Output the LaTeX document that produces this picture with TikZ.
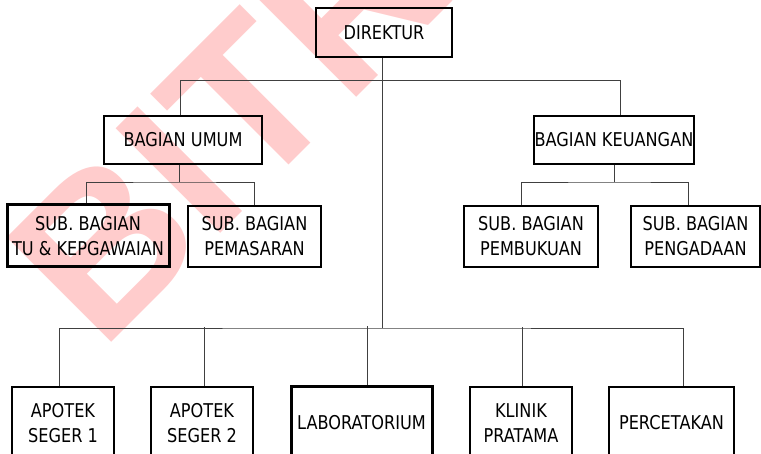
\documentclass[tikz,border=0pt]{standalone}
\usepackage{fontspec}
\setmainfont{DejaVu Sans}[FakeStretch=0.85]
\newfontfamily\markfont{Liberation Sans}
\begin{document}
\begin{tikzpicture}[x=1pt,y=-1pt,
  box/.style={draw,line width=1.4pt,inner sep=0pt,align=center,
    font=\fontsize{19}{25}\selectfont},
  boldbox/.style={box,line width=3pt},
  link/.style={line width=0.9pt,black!75}]
  \useasboundingbox (0,0) rectangle (761,454);
  \clip (0,0) rectangle (761,454);
  % watermark
  \node[rotate=45,anchor=base west,inner sep=0pt,text=red!20,
    font=\markfont\bfseries\fontsize{215}{215}\selectfont] (mark) at (101,353) {BITR};
  % top levels
  \node[box,minimum width=136pt,minimum height=49pt] (dir) at (384,32.5) {DIREKTUR};
  \node[box,minimum width=158pt,minimum height=48pt] (umum) at (183,140) {BAGIAN UMUM};
  \node[box,minimum width=160pt,minimum height=48pt] (keu) at (614,140) {BAGIAN KEUANGAN};
  \node[boldbox,minimum width=162pt,minimum height=62pt] (tu) at (88,236) {SUB. BAGIAN\\TU \& KEPGAWAIAN};
  \node[box,minimum width=133pt,minimum height=61pt] (pasar) at (254.5,236.5) {SUB. BAGIAN\\PEMASARAN};
  \node[box,minimum width=134pt,minimum height=61pt] (buku) at (531,236.5) {SUB. BAGIAN\\PEMBUKUAN};
  \node[box,minimum width=129pt,minimum height=61pt] (adaan) at (695.5,236.5) {SUB. BAGIAN\\PENGADAAN};
  % units
  \node[box,minimum width=102pt,minimum height=72pt] (apt1) at (63,423) {APOTEK\\SEGER 1};
  \node[box,minimum width=102pt,minimum height=72pt] (apt2) at (202,423) {APOTEK\\SEGER 2};
  \node[boldbox,minimum width=141pt,minimum height=72pt] (lab) at (361.5,423) {LABORATORIUM};
  \node[box,minimum width=102pt,minimum height=72pt] (klinik) at (521,423) {KLINIK\\PRATAMA};
  \node[box,minimum width=125pt,minimum height=72pt] (cetak) at (671.5,423) {PERCETAKAN};
  % junctions
  \coordinate (jU) at (179,182);
  \coordinate (jK) at (614,182);
  \coordinate (jD) at (382,328);
  \draw[link] ([xshift=-3pt]umum.north) -- ++(0,-35) -| ([xshift=6pt]keu.north);
  \draw[link] ([xshift=-2pt]dir.south) -- (jD);
  \draw[link] (umum.south -| jU) -- (jU);
  \draw[link] ([xshift=-2pt]tu.north) |- (jU) -| (pasar.north);
  \draw[link] (keu.south) -- (jK);
  \draw[link] ([xshift=-10pt]buku.north) |- (jK) -| ([xshift=-7pt]adaan.north);
  \draw[link] ([xshift=-4pt]apt1.north) |- (jD) -| ([xshift=11.5pt]cetak.north);
  \foreach \n/\s in {apt2/2,lab/5.5,klinik/1}
    \draw[link] ([xshift=\s pt]\n.north) -- ++(0,-59);
\end{tikzpicture}
\end{document}
